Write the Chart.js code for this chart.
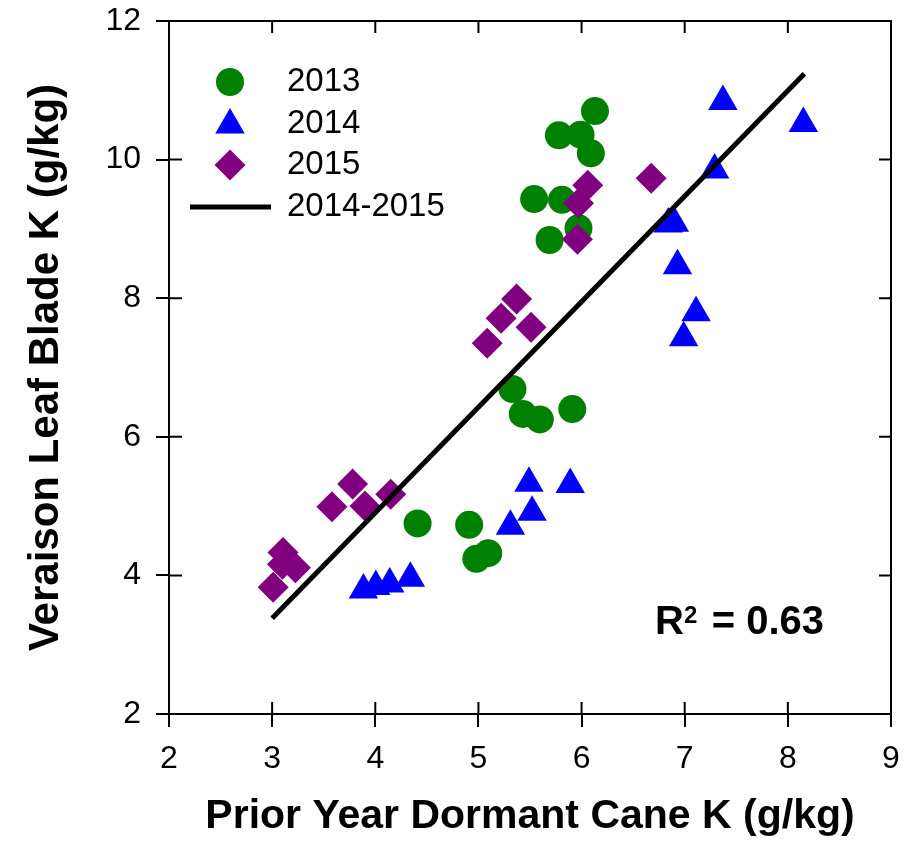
<!DOCTYPE html>
<html>
<head>
<meta charset="utf-8">
<script src="https://cdn.jsdelivr.net/npm/chart.js@4.4.1/dist/chart.umd.min.js"></script>
<style>
  html, body { margin: 0; padding: 0; background: #fff; }
  #wrap { width: 912px; height: 841px; }
</style>
</head>
<body>
<div id="wrap"><canvas id="chart" width="912" height="841"></canvas></div>
<script>
// data
const k2013X = [6.13, 5.78, 5.99, 6.09, 5.54, 5.81, 5.97, 5.69, 5.33, 5.43, 5.595, 5.91, 4.41, 4.91, 5.095, 4.98];
const k2013Y = [10.70, 10.35, 10.36, 10.09, 9.43, 9.42, 9.01, 8.84, 6.69, 6.33, 6.25, 6.40, 4.75, 4.73, 4.32, 4.24];

const k2014X = [7.37, 8.15, 7.29, 6.84, 6.90, 6.93, 7.11, 6.99, 5.49, 5.89, 5.52, 5.31, 4.34, 4.14, 4.005, 3.885];
const k2014Y = [10.84, 10.52, 9.85, 9.07, 9.08, 8.47, 7.79, 7.43, 5.33, 5.31, 4.91, 4.71, 3.96, 3.875, 3.84, 3.79];

const k2015X = [6.675, 6.06, 5.97, 5.96, 5.37, 5.22, 5.51, 5.085, 3.78, 3.58, 3.90, 4.15, 3.105, 3.10, 3.225, 3.01];
const k2015Y = [9.73, 9.63, 9.37, 8.85, 7.99, 7.71, 7.58, 7.35, 5.32, 4.99, 5.00, 5.17, 4.33, 4.16, 4.11, 3.83];

// 2014-2015 regression line ends
const fitX = [3.0, 8.16];
const fitY = [3.38, 11.24];

const xTicks = [2, 3, 4, 5, 6, 7, 8, 9];
const yTicks = [2, 4, 6, 8, 10, 12];
const r2Text = '0.63';

const FONT = "'Liberation Sans', Arial, sans-serif";

function pts(xs, ys) {
  return xs.map((x, i) => ({ x: x, y: ys[i] }));
}

// inner ticks + top/right border
const framePlugin = {
  id: 'frame',
  beforeDatasetsDraw(chart) {
    const { ctx, chartArea: a, scales } = chart;
    ctx.save();
    ctx.strokeStyle = '#000';
    ctx.lineWidth = 2;
    ctx.beginPath();
    ctx.moveTo(a.left, a.top);
    ctx.lineTo(a.right, a.top);
    ctx.lineTo(a.right, a.bottom);
    ctx.stroke();
    ctx.beginPath();
    xTicks.forEach(v => {
      const px = scales.x.getPixelForValue(v);
      ctx.moveTo(px, a.bottom); ctx.lineTo(px, a.bottom - 12);
      ctx.moveTo(px, a.top); ctx.lineTo(px, a.top + 12);
    });
    yTicks.forEach(v => {
      const py = scales.y.getPixelForValue(v);
      ctx.moveTo(a.left, py); ctx.lineTo(a.left + 13, py);
      ctx.moveTo(a.right, py); ctx.lineTo(a.right - 12, py);
    });
    ctx.stroke();
    ctx.restore();
  }
};

// legend inside the plot and the R2 note
const notesPlugin = {
  id: 'notes',
  afterDatasetsDraw(chart) {
    const ctx = chart.ctx;
    const rows = [82, 124, 165, 207];
    ctx.save();
    chart.data.datasets.forEach((ds, i) => {
      const y = rows[i];
      if (ds.showLine) {
        ctx.strokeStyle = ds.borderColor;
        ctx.lineWidth = ds.borderWidth;
        ctx.beginPath();
        ctx.moveTo(190, y);
        ctx.lineTo(271, y);
        ctx.stroke();
      } else {
        ctx.fillStyle = ds.backgroundColor;
        Chart.helpers.drawPoint(ctx, {
          pointStyle: ds.pointStyle, radius: ds.pointRadius, rotation: 0, borderWidth: 0
        }, 230, i === 1 ? y + 1 : y);
      }
      ctx.fillStyle = '#000';
      ctx.font = '33px ' + FONT;
      ctx.textAlign = 'left';
      ctx.textBaseline = 'middle';
      ctx.fillText(ds.label, 287, y);
    });

    ctx.fillStyle = '#000';
    ctx.textBaseline = 'alphabetic';
    ctx.font = 'bold 40px ' + FONT;
    ctx.textAlign = 'left';
    ctx.fillText('R', 655, 634);
    ctx.font = 'bold 24px ' + FONT;
    ctx.fillText('2', 684, 623);
    ctx.font = 'bold 40px ' + FONT;
    ctx.textAlign = 'right';
    ctx.fillText('= ' + r2Text, 824, 634);
    ctx.restore();
  }
};

new Chart(document.getElementById('chart'), {
  type: 'scatter',
  data: {
    datasets: [
      {
        label: '2013',
        data: pts(k2013X, k2013Y),
        pointStyle: 'circle',
        pointRadius: 14,
        pointHoverRadius: 14,
        pointBorderWidth: 0,
        backgroundColor: '#008000',
        borderColor: '#008000',
        order: 3
      },
      {
        label: '2014',
        data: pts(k2014X, k2014Y),
        pointStyle: 'triangle',
        pointRadius: 17,
        pointHoverRadius: 17,
        pointBorderWidth: 0,
        backgroundColor: '#0000ff',
        borderColor: '#0000ff',
        order: 2
      },
      {
        label: '2015',
        data: pts(k2015X, k2015Y),
        pointStyle: 'rectRot',
        pointRadius: 15.5,
        pointHoverRadius: 15.5,
        pointBorderWidth: 0,
        backgroundColor: '#800080',
        borderColor: '#800080',
        order: 1
      },
      {
        label: '2014-2015',
        type: 'line',
        data: pts(fitX, fitY),
        showLine: true,
        borderColor: '#000',
        borderWidth: 5,
        pointRadius: 0,
        fill: false,
        order: 0
      }
    ]
  },
  options: {
    responsive: false,
    animation: false,
    events: [],
    layout: { padding: { top: 21, right: 21, left: 0, bottom: 0 } },
    plugins: {
      legend: { display: false },
      tooltip: { enabled: false }
    },
    scales: {
      x: {
        type: 'linear',
        min: 2,
        max: 9,
        afterBuildTicks: s => { s.ticks = xTicks.map(v => ({ value: v })); },
        afterFit: s => { s.height = 127; s.paddingLeft = 0; s.paddingRight = 0; },
        ticks: { color: '#000', font: { family: FONT, size: 32 }, padding: 13, maxRotation: 0 },
        grid: { drawOnChartArea: false, drawTicks: true, tickLength: 13, color: '#000', lineWidth: 2 },
        border: { display: true, color: '#000', width: 2 },
        title: {
          display: true,
          text: 'Prior Year Dormant Cane K (g/kg)',
          color: '#000',
          font: { family: FONT, size: 41, weight: 'bold' },
          padding: { top: 0, bottom: 0 }
        }
      },
      y: {
        type: 'linear',
        min: 2,
        max: 12,
        afterBuildTicks: s => { s.ticks = yTicks.map(v => ({ value: v })); },
        afterFit: s => { s.width = 169; s.paddingTop = 0; s.paddingBottom = 0; },
        ticks: { color: '#000', font: { family: FONT, size: 32 }, padding: 15 },
        grid: { drawOnChartArea: false, drawTicks: true, tickLength: 13, color: '#000', lineWidth: 2 },
        border: { display: true, color: '#000', width: 2 },
        title: {
          display: true,
          text: 'Veraison Leaf Blade K (g/kg)',
          color: '#000',
          font: { family: FONT, size: 42, weight: 'bold' },
          padding: { top: 21, bottom: 0 }
        }
      }
    }
  },
  plugins: [framePlugin, notesPlugin]
});
</script>
</body>
</html>
